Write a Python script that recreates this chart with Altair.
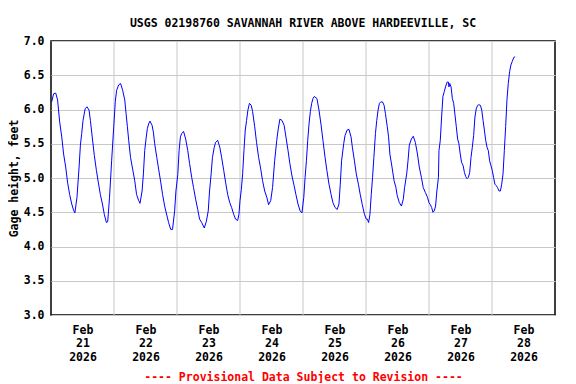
import altair as alt
import pandas as pd

# Hours since 2026-02-21 00:00 and gage height (feet)
hours = [
    0.25, 1.0, 1.8, 2.5, 3.3, 4.1, 4.8, 5.6, 6.3, 7.1, 7.9, 8.6, 9.1, 9.9, 10.7, 11.2, 11.7, 12.2,
    13.0, 13.7, 14.5, 15.0, 15.7, 16.5, 17.3, 18.0, 18.8, 19.6, 20.3, 21.1, 21.6, 22.3, 23.1, 23.9,
    24.5, 25.0, 25.8, 26.5, 27.3, 28.1, 28.6, 29.1, 29.6, 30.3, 31.1, 31.9, 32.6, 33.4, 33.9, 34.7,
    35.2, 35.7, 36.2, 36.7, 37.2, 37.7, 38.5, 39.0, 39.5, 40.3, 41.0, 41.8, 42.5, 43.3, 44.1, 44.8,
    45.6, 46.3, 47.1, 47.6, 48.3, 48.8, 49.3, 49.8, 50.5, 51.3, 52.1, 52.8, 53.6, 54.3, 55.1, 55.9,
    56.6, 57.4, 58.4, 59.2, 59.9, 60.4, 61.0, 61.5, 62.2, 62.7, 63.5, 64.3, 65.0, 65.8, 66.5, 67.3,
    68.1, 68.8, 69.6, 70.3, 71.1, 71.6, 72.0, 72.5, 73.0, 73.5, 74.0, 74.5, 75.0, 75.6, 76.3, 76.8,
    77.6, 78.3, 79.1, 79.9, 80.6, 81.4, 82.2, 82.9, 83.7, 84.4, 85.2, 86.0, 86.5, 87.2, 88.0, 88.8,
    89.5, 90.3, 91.0, 91.8, 92.6, 93.3, 94.1, 94.9, 95.6, 96.3, 96.8, 97.3, 97.8, 98.3, 98.8, 99.3,
    99.8, 100.3, 101.3, 102.1, 102.9, 103.6, 104.4, 105.1, 105.9, 106.7, 107.4, 108.2, 109.0, 109.7,
    110.2, 110.7, 111.5, 112.0, 112.8, 113.5, 114.3, 114.8, 115.6, 116.3, 117.1, 117.8, 118.6, 119.4,
    120.1, 120.5, 121.0, 121.5, 122.0, 122.5, 123.0, 123.6, 124.1, 124.6, 125.1, 125.6, 126.3, 126.9,
    127.4, 128.1, 128.6, 129.1, 129.9, 130.7, 131.4, 131.9, 132.7, 133.5, 134.2, 134.7, 135.5, 136.0,
    136.5, 137.3, 138.0, 138.8, 139.6, 140.3, 141.1, 141.8, 142.6, 143.4, 144.0, 144.5, 145.0, 145.5,
    146.0, 146.5, 147.0, 147.6, 147.8, 148.3, 148.8, 149.3, 149.8, 150.3, 150.9, 151.4, 151.6, 151.9,
    152.4, 152.9, 153.4, 153.9, 154.4, 154.9, 155.4, 155.9, 156.4, 157.0, 157.5, 158.0, 158.5, 159.0,
    159.5, 160.0, 160.5, 161.0, 161.5, 162.0, 162.5, 163.0, 163.6, 164.1, 164.6, 165.1, 165.6, 166.1,
    166.6, 167.1, 167.6, 168.1, 168.6, 169.1, 169.6, 170.1, 170.7, 171.2, 171.7, 172.2, 172.7, 173.2,
    173.7, 174.2, 174.7, 175.2, 175.7, 176.3, 176.8,
]
gage_ft = [
    6.11, 6.23, 6.24, 6.14, 5.82, 5.60, 5.35, 5.16, 4.94, 4.76, 4.62, 4.53, 4.49, 4.72, 5.16, 5.48, 5.65, 5.84,
    6.01, 6.04, 5.99, 5.84, 5.60, 5.33, 5.11, 4.94, 4.76, 4.62, 4.47, 4.35, 4.36, 4.72, 5.25, 5.75,
    6.12, 6.28, 6.36, 6.38, 6.28, 6.14, 5.94, 5.75, 5.55, 5.30, 5.13, 4.96, 4.76, 4.67, 4.63, 4.81,
    5.06, 5.40, 5.57, 5.72, 5.79, 5.83, 5.77, 5.67, 5.50, 5.30, 5.13, 4.94, 4.76, 4.59, 4.46, 4.35,
    4.25, 4.25, 4.52, 4.81, 5.05, 5.40, 5.60, 5.65, 5.68, 5.57, 5.40, 5.21, 5.01, 4.86, 4.69, 4.54,
    4.40, 4.35, 4.27, 4.37, 4.52, 4.81, 5.06, 5.30, 5.45, 5.52, 5.55, 5.45, 5.30, 5.11, 4.94, 4.76,
    4.64, 4.57, 4.47, 4.40, 4.38, 4.47, 4.67, 4.83, 5.06, 5.40, 5.70, 5.84, 5.99, 6.09, 6.06, 5.97,
    5.75, 5.52, 5.30, 5.13, 4.96, 4.81, 4.72, 4.61, 4.67, 4.86, 5.25, 5.55, 5.70, 5.86, 5.84, 5.77,
    5.60, 5.40, 5.21, 5.03, 4.89, 4.76, 4.62, 4.52, 4.49, 4.72, 5.01, 5.25, 5.55, 5.79, 5.97, 6.09,
    6.16, 6.19, 6.16, 5.99, 5.77, 5.55, 5.30, 5.11, 4.91, 4.76, 4.64, 4.57, 4.54, 4.62,
    4.91, 5.25, 5.50, 5.62, 5.70, 5.71, 5.60, 5.45, 5.25, 5.06, 4.91, 4.76, 4.61, 4.47,
    4.40, 4.40, 4.35, 4.47, 4.76, 5.01, 5.30, 5.65, 5.84, 5.99, 6.09, 6.11, 6.11, 6.06,
    5.94, 5.75, 5.60, 5.35, 5.16, 4.96, 4.86, 4.74, 4.64, 4.59, 4.69, 4.86, 5.06, 5.25,
    5.48, 5.57, 5.61, 5.52, 5.35, 5.16, 5.01, 4.86, 4.79, 4.72, 4.64, 4.61, 4.57, 4.50,
    4.52, 4.59, 4.81, 5.01, 5.40, 5.55, 5.89, 6.19, 6.26, 6.33, 6.40, 6.40, 6.33, 6.38,
    6.33, 6.16, 6.09, 5.92, 5.75, 5.57, 5.50, 5.35, 5.23, 5.18, 5.08, 5.02, 4.99, 5.01,
    5.08, 5.30, 5.45, 5.62, 5.89, 6.01, 6.06, 6.07, 6.06, 5.99, 5.84, 5.70, 5.55, 5.45,
    5.40, 5.25, 5.18, 5.11, 5.01, 4.91, 4.89, 4.86, 4.81, 4.81, 4.91, 5.06, 5.40, 5.75,
    6.14, 6.38, 6.55, 6.65, 6.70, 6.76, 6.77,
]

day_boundaries = [24, 48, 72, 96, 120, 144, 168]
label_hours = [12, 36, 60, 84, 108, 132, 156, 180]
label_months = ["Feb"] * 8
label_days = ["21", "22", "23", "24", "25", "26", "27", "28"]
label_years = ["2026"] * 8
y_ticks = [3.0, 3.5, 4.0, 4.5, 5.0, 5.5, 6.0, 6.5, 7.0]

FONT = "DejaVu Sans Mono"
GRID = "#c8c8c8"

df = pd.DataFrame({"hour": hours, "gage": gage_ft})
grid_df = pd.DataFrame({"hour": day_boundaries})

lookup = "[" + ",".join(
    f"['{m}','{d}','{y}']" for m, d, y in zip(label_months, label_days, label_years)
) + "]"
label_expr = f"{lookup}[indexof({label_hours}, datum.value)]"

x_scale = alt.Scale(domain=[0, 192], nice=False, zero=False)
y_scale = alt.Scale(domain=[3.0, 7.0], nice=False, zero=False)

x_axis = alt.Axis(
    values=label_hours, labelExpr=label_expr, grid=False, ticks=False, domain=False,
    labelFont=FONT, labelFontSize=11.5, labelFontWeight="bold", labelColor="black",
    labelLineHeight=13.7, labelPadding=9, labelBaseline="top", labelAlign="center",
    title="---- Provisional Data Subject to Revision ----", titleColor="red",
    titleFont=FONT, titleFontSize=11.5, titleFontWeight="bold", titlePadding=9,
)
y_axis = alt.Axis(
    values=y_ticks, format=".1f", grid=True, gridColor=GRID, gridWidth=1, ticks=False,
    domain=False, labelFont=FONT, labelFontSize=11.5, labelFontWeight="bold",
    labelColor="black", labelPadding=7, title="Gage height, feet", titleFont=FONT,
    titleFontSize=11.5, titleFontWeight="bold", titleColor="black", titlePadding=4,
)

vgrid = alt.Chart(grid_df).mark_rule(color=GRID, strokeWidth=1).encode(
    x=alt.X("hour:Q", scale=x_scale, axis=x_axis)
)
line = alt.Chart(df).mark_line(color="#0000ff", strokeWidth=1).encode(
    x=alt.X("hour:Q", scale=x_scale, axis=x_axis),
    y=alt.Y("gage:Q", scale=y_scale, axis=y_axis),
)

chart = alt.layer(vgrid, line).properties(
    width=504,
    height=274,
    title=alt.TitleParams(
        "USGS 02198760 SAVANNAH RIVER ABOVE HARDEEVILLE, SC",
        font=FONT, fontSize=11.5, fontWeight="bold", color="black",
        anchor="middle", offset=6,
    ),
    autosize=alt.AutoSizeParams(type="none"),
    padding={"left": 43, "top": 33, "right": 13, "bottom": 68},
).configure_view(stroke="black", strokeWidth=1.5)

chart.save("out.html", embed_options={"renderer": "svg", "actions": False})
